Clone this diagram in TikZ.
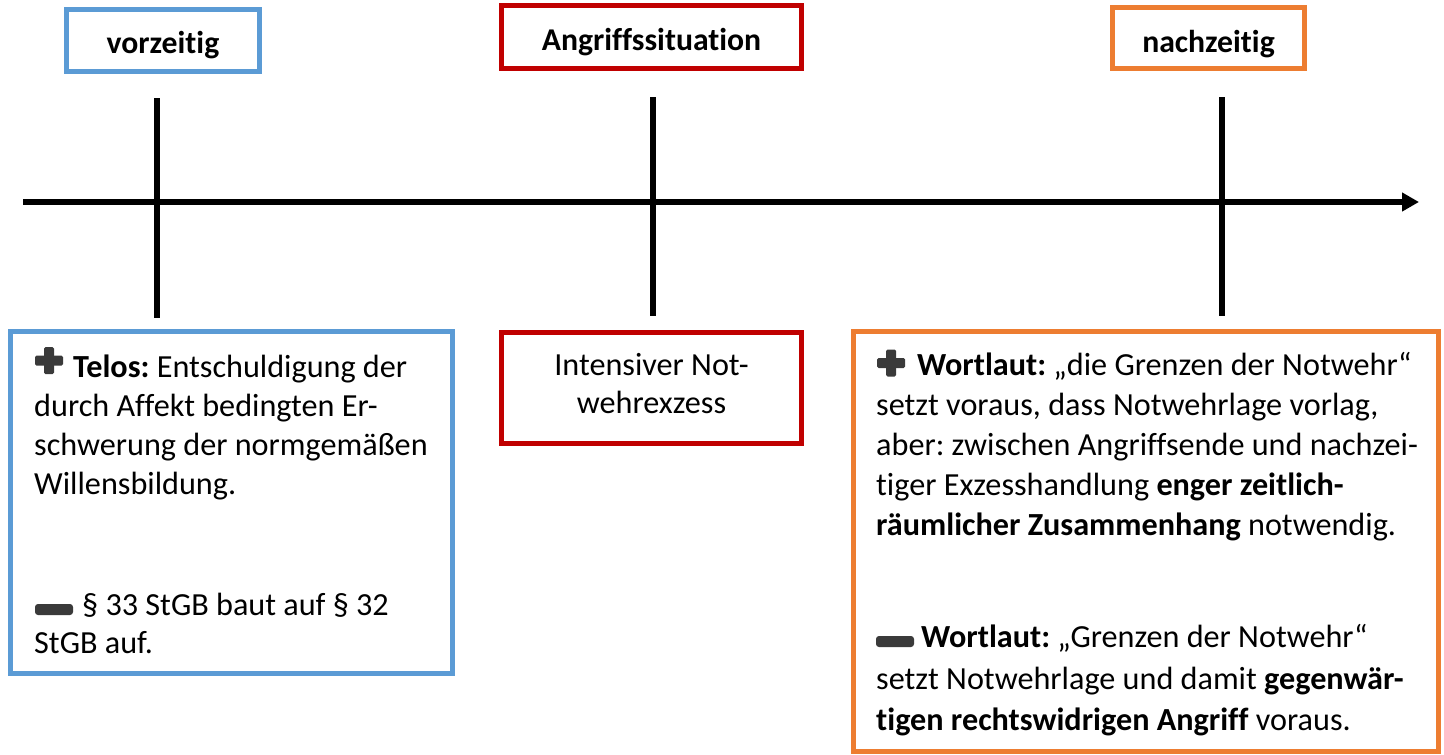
\documentclass[tikz,border=0pt]{standalone}
\usepackage{fontspec}
\setmainfont{Carlito}[Ligatures={NoCommon}]
\frenchspacing
\usetikzlibrary{arrows.meta}
\definecolor{cblue}{HTML}{5B9BD5}
\definecolor{cred}{HTML}{C00000}
\definecolor{corange}{HTML}{ED7D31}
\definecolor{icongray}{HTML}{3A3A3A}
\tikzset{
  frame/.style={draw=#1, line width=5pt, inner sep=0pt, fill=white, rectangle},
  hdr/.style={font=\fontsize{31.7}{39}\selectfont\bfseries, text depth=0pt},
  bodytext/.style={font=\fontsize{32.2}{#1}\selectfont\frenchspacing, inner sep=0pt, anchor=base west, align=left},
  ticklin/.style={line width=5.5pt},
  timeline/.style={line width=6pt, -{Triangle[length=17pt,width=18pt]}},
  plusicon/.pic={
    \fill[icongray, rounded corners=1.5pt] (-14,-5) rectangle (14,5);
    \fill[icongray, rounded corners=1.5pt] (-5,-13.5) rectangle (5,13.5);
  },
  minusicon/.pic={
    \fill[icongray, rounded corners=3pt] (-19,-5.5) rectangle (19,5.5);
  }
}
\begin{document}
\begin{tikzpicture}[x=1pt,y=-1pt]
\useasboundingbox (0,0) rectangle (1444,755);

% timeline
\coordinate (ts) at (23,202);
\coordinate (te) at (1419,202);
\draw[timeline] (ts) -- (te);

% ticks
\coordinate (k1a) at (157,98);  \coordinate (k1b) at (157,318);
\coordinate (k2a) at (653,97);  \coordinate (k2b) at (653,316);
\coordinate (k3a) at (1222,97); \coordinate (k3b) at (1222,316);
\draw[ticklin] (k1a) -- (k1b);
\draw[ticklin] (k2a) -- (k2b);
\draw[ticklin] (k3a) -- (k3b);

% header boxes
\node[frame=cblue, minimum width=193pt, minimum height=62pt, hdr, text height=25pt] (hvor) at (163,40.5) {vorzeitig};
\node[frame=cred, minimum width=300pt, minimum height=63pt, hdr, text height=26pt] (hang) at (651.5,37) {Angriffssituation};
\node[frame=corange, minimum width=192pt, minimum height=61pt, hdr, text height=28pt] (hnach) at (1208.5,38) {nachzeitig};

% lower boxes
\node[frame=cblue, minimum width=442pt, minimum height=342pt] (bvor) at (231.5,502.5) {};
\node[frame=cred, minimum width=300pt, minimum height=111pt] (bang) at (651.5,388) {};
\node[frame=corange, minimum width=585pt, minimum height=420pt] (bnach) at (1146,541.5) {};

% middle text (base anchor = last line)
\node[font=\fontsize{32.2}{37.5}\selectfont, inner sep=0pt, align=center, anchor=base] (tang) at (651.5,413)
  {Intensiver Not-\\wehrexzess};

% left texts
\pic at (49,360.5) {plusicon};
\node[bodytext=39] (tvor1) at (34,494)
  {\hspace*{39pt}\textbf{Telos:} Entschuldigung der\\durch Affekt bedingten Er-\\schwerung der normgemäßen\\Willensbildung.};
\pic at (54,609.5) {minusicon};
\node[bodytext=38] (tvor2) at (34,653)
  {\hspace*{48pt}§ 33 StGB baut auf § 32\\StGB auf.};

% right texts
\pic at (891,363) {plusicon};
\node[bodytext=40] (tnach1) at (876,535)
  {\hspace*{41pt}\textbf{Wortlaut:} „die Grenzen der Notwehr“\\setzt voraus, dass Notwehrlage vorlag,\\aber: zwischen Angriffsende und nachzei-\\tiger Exzesshandlung \textbf{enger zeitlich-}\\\textbf{räumlicher Zusammenhang} notwendig.};
\pic at (895,641.5) {minusicon};
\node[bodytext=41.5] (tnach2) at (876,730.5)
  {\hspace*{45pt}\textbf{Wortlaut:} „Grenzen der Notwehr“\\setzt Notwehrlage und damit \textbf{gegenwär-}\\\textbf{tigen rechtswidrigen Angriff} voraus.};
\end{tikzpicture}
\end{document}
